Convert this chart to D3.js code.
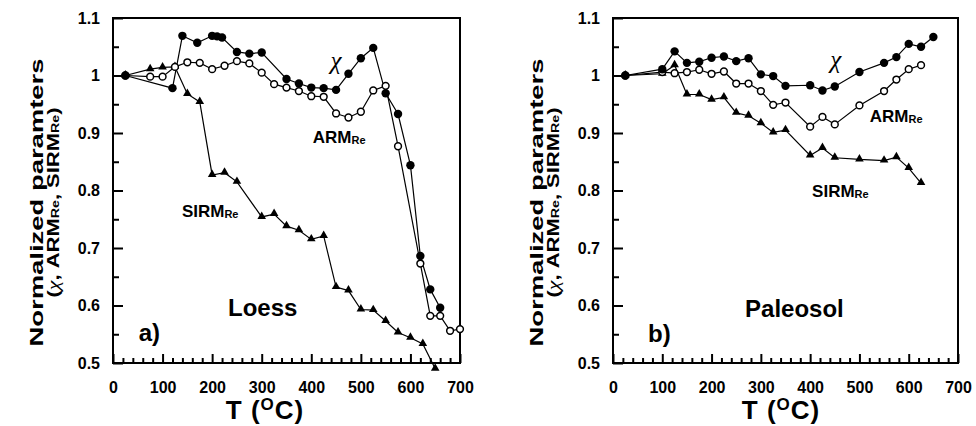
<!DOCTYPE html>
<html>
<head>
<meta charset="utf-8">
<script src="https://cdn.jsdelivr.net/npm/d3@7"></script>
<style>
  body { margin: 0; background: #fff; }
  svg { display: block; font-family: "Liberation Sans", Arial, sans-serif; font-weight: bold; fill: #000; }
</style>
</head>
<body>
<div id="wrapper"></div>
<script>
// ---- data ----
const loessChiT = [25, 120, 140, 170, 200, 210, 220, 250, 275, 300, 350, 375, 400, 425, 450, 475, 500, 525, 550, 575, 600, 620, 640, 660]
const loessChiV = [1.0, 0.978, 1.069, 1.057, 1.069, 1.068, 1.066, 1.041, 1.038, 1.040, 0.994, 0.986, 0.979, 0.978, 0.975, 1.003, 1.030, 1.048, 0.969, 0.933, 0.844, 0.686, 0.628, 0.596]

const loessArmT = [25, 75, 100, 125, 150, 175, 200, 225, 250, 275, 300, 325, 350, 375, 400, 425, 450, 475, 500, 525, 550, 575, 620, 640, 660, 680, 700]
const loessArmV = [1.0, 0.998, 0.998, 1.015, 1.023, 1.022, 1.011, 1.017, 1.025, 1.021, 1.005, 0.985, 0.979, 0.973, 0.964, 0.963, 0.934, 0.927, 0.937, 0.974, 0.982, 0.877, 0.673, 0.582, 0.582, 0.556, 0.559]

const loessSirmT = [25, 75, 100, 125, 150, 175, 200, 225, 250, 300, 325, 350, 375, 400, 425, 450, 475, 500, 525, 550, 575, 600, 625, 650]
const loessSirmV = [1.0, 1.011, 1.014, 1.015, 0.968, 0.954, 0.827, 0.831, 0.815, 0.754, 0.759, 0.738, 0.731, 0.715, 0.721, 0.632, 0.626, 0.593, 0.592, 0.573, 0.553, 0.544, 0.533, 0.490]

const paleoChiT = [25, 100, 125, 150, 175, 200, 225, 250, 275, 300, 325, 350, 400, 425, 450, 500, 550, 575, 600, 625, 650]
const paleoChiV = [1.0, 1.011, 1.042, 1.022, 1.024, 1.031, 1.033, 1.025, 1.030, 1.002, 0.999, 0.982, 0.983, 0.974, 0.981, 1.006, 1.022, 1.032, 1.055, 1.050, 1.067]

const paleoArmT = [25, 100, 125, 150, 175, 200, 225, 250, 275, 300, 325, 350, 400, 425, 450, 500, 550, 575, 600, 625]
const paleoArmV = [1.0, 1.006, 1.004, 1.006, 1.010, 1.003, 1.007, 0.986, 0.986, 0.973, 0.949, 0.953, 0.911, 0.928, 0.915, 0.948, 0.973, 0.993, 1.011, 1.018]

const paleoSirmT = [25, 100, 125, 150, 175, 200, 225, 250, 275, 300, 325, 350, 400, 425, 450, 500, 550, 575, 600, 625]
const paleoSirmV = [1.0, 1.003, 1.018, 0.967, 0.967, 0.958, 0.962, 0.935, 0.930, 0.917, 0.901, 0.905, 0.861, 0.874, 0.857, 0.854, 0.852, 0.858, 0.839, 0.813]

const xTicks = [0, 100, 200, 300, 400, 500, 600, 700]
const yTicks = [0.5, 0.6, 0.7, 0.8, 0.9, 1, 1.1]
const yMinorTicks = [0.55, 0.65, 0.75, 0.85, 0.95, 1.05]

const zip = (ts, vs) => ts.map((t, i) => [t, vs[i]])

// ---- layout ----
const dimensions = { width: 976, height: 426, top: 18, bottom: 363 }

const panels = [
  {
    left: 113, right: 460, titleX: [43, 59], xTitleX: 265,
    chi: zip(loessChiT, loessChiV),
    arm: zip(loessArmT, loessArmV),
    sirm: zip(loessSirmT, loessSirmV),
    notes: { chi: [450, 1.011], arm: [403, 0.883], sirm: [139, 0.754], name: [232, 0.582], tag: [52, 0.538] },
    name: "Loess", tag: "a)",
  },
  {
    left: 613, right: 958, titleX: [543, 559], xTitleX: 781,
    chi: zip(paleoChiT, paleoChiV),
    arm: zip(paleoArmT, paleoArmV),
    sirm: zip(paleoSirmT, paleoSirmV),
    notes: { chi: [452, 1.013], arm: [521, 0.919], sirm: [404, 0.789], name: [268, 0.580], tag: [71, 0.537] },
    name: "Paleosol", tag: "b)",
  },
]

const svg = d3.select("#wrapper")
  .append("svg")
    .attr("width", dimensions.width)
    .attr("height", dimensions.height)

function addSub(sel, main, sub, size) {
  sel.append("tspan").text(main)
  sel.append("tspan").attr("font-size", size).attr("dy", 1).text(sub)
}

function drawPanel(p) {
  const g = svg.append("g")

  const xScale = d3.scaleLinear()
    .domain([0, 700])
    .range([p.left, p.right])

  const yScale = d3.scaleLinear()
    .domain([0.5, 1.1])
    .range([dimensions.bottom, dimensions.top])

  // frame
  g.append("rect")
    .attr("x", p.left)
    .attr("y", dimensions.top)
    .attr("width", p.right - p.left)
    .attr("height", dimensions.bottom - dimensions.top)
    .attr("fill", "none")
    .attr("stroke", "#000")
    .attr("stroke-width", 2)

  // y axis, ticks inward
  g.append("g")
    .attr("transform", `translate(${p.left},0)`)
    .call(d3.axisLeft(yScale).tickValues(yTicks).tickSize(-10).tickPadding(13).tickFormat(d => String(d)))
  g.append("g")
    .attr("transform", `translate(${p.left},0)`)
    .call(d3.axisLeft(yScale).tickValues(yMinorTicks).tickSize(-6).tickFormat(""))

  // x axis, ticks inward
  g.append("g")
    .attr("transform", `translate(0,${dimensions.bottom})`)
    .call(d3.axisBottom(xScale).tickValues(xTicks).tickSize(-9).tickPadding(19))
  g.append("g")
    .attr("transform", `translate(0,${dimensions.bottom})`)
    .call(d3.axisBottom(xScale).tickValues(d3.range(20, 700, 20).filter(d => d % 100 !== 0)).tickSize(-5).tickFormat(""))

  g.selectAll(".domain").remove()
  g.selectAll(".tick line").attr("stroke", "#000").attr("stroke-width", 2)
  g.selectAll(".tick text")
    .attr("font-size", 16)
    .attr("font-family", "Liberation Sans, Arial, sans-serif")
    .attr("font-weight", "bold")
    .attr("fill", "#000")

  // axis titles (stretched along their length like the original)
  const cy = (dimensions.top + dimensions.bottom) / 2 + 12
  const len1 = 288, len2 = 190
  g.append("text")
    .attr("transform", `translate(${p.titleX[0]},${cy + len1 / 2}) rotate(-90)`)
    .attr("font-size", 18)
    .attr("textLength", len1)
    .attr("lengthAdjust", "spacingAndGlyphs")
    .text("Normalized paramters")

  const t2 = g.append("text")
    .attr("transform", `translate(${p.titleX[1]},${cy + len2 / 2}) rotate(-90)`)
    .attr("font-size", 17)
    .attr("textLength", len2)
    .attr("lengthAdjust", "spacingAndGlyphs")
  t2.append("tspan").text("(")
  t2.append("tspan").attr("font-family", "Liberation Serif, serif").attr("font-style", "italic").attr("font-weight", "normal").text("χ")
  t2.append("tspan").text(", ARM")
  t2.append("tspan").attr("font-size", 11).text("Re")
  t2.append("tspan").text(", SIRM")
  t2.append("tspan").attr("font-size", 11).text("Re")
  t2.append("tspan").text(")")

  const xt = g.append("text")
    .attr("x", p.xTitleX)
    .attr("y", 419)
    .attr("text-anchor", "middle")
    .attr("font-size", 26)
    .attr("letter-spacing", 1)
  xt.append("tspan").text("T (")
  xt.append("tspan").attr("font-size", 17).attr("dy", -9).text("O")
  xt.append("tspan").attr("dy", 9).text("C)")

  // series
  const lineGenerator = d3.line()
    .x(d => xScale(d[0]))
    .y(d => yScale(d[1]))

  ;[p.sirm, p.arm, p.chi].forEach(series => {
    g.append("path")
      .attr("d", lineGenerator(series))
      .attr("fill", "none")
      .attr("stroke", "#000")
      .attr("stroke-width", 1.2)
  })

  g.selectAll(".tri")
    .data(p.sirm)
    .join("path")
      .attr("class", "tri")
      .attr("d", d3.symbol(d3.symbolTriangle, 32))
      .attr("transform", d => `translate(${xScale(d[0])},${yScale(d[1]) - 0.5})`)
      .attr("fill", "#000")

  g.selectAll(".open")
    .data(p.arm)
    .join("circle")
      .attr("class", "open")
      .attr("cx", d => xScale(d[0]))
      .attr("cy", d => yScale(d[1]))
      .attr("r", 3.4)
      .attr("fill", "#fff")
      .attr("stroke", "#000")
      .attr("stroke-width", 1.5)

  g.selectAll(".filled")
    .data(p.chi)
    .join("circle")
      .attr("class", "filled")
      .attr("cx", d => xScale(d[0]))
      .attr("cy", d => yScale(d[1]))
      .attr("r", 4.2)
      .attr("fill", "#000")

  // annotations
  const n = p.notes
  g.append("text")
    .attr("x", xScale(n.chi[0]))
    .attr("y", yScale(n.chi[1]))
    .attr("text-anchor", "middle")
    .attr("font-family", "Liberation Serif, serif")
    .attr("font-style", "italic")
    .attr("font-weight", "normal")
    .attr("font-size", 25)
    .text("χ")

  addSub(g.append("text")
    .attr("x", xScale(n.arm[0]))
    .attr("y", yScale(n.arm[1]))
    .attr("font-size", 17), "ARM", "Re", 11)

  addSub(g.append("text")
    .attr("x", xScale(n.sirm[0]))
    .attr("y", yScale(n.sirm[1]))
    .attr("font-size", 17), "SIRM", "Re", 11)

  g.append("text")
    .attr("x", xScale(n.name[0]))
    .attr("y", yScale(n.name[1]))
    .attr("font-size", 24)
    .text(p.name)

  g.append("text")
    .attr("x", xScale(n.tag[0]))
    .attr("y", yScale(n.tag[1]))
    .attr("font-size", 24)
    .text(p.tag)
}

panels.forEach(drawPanel)
</script>
</body>
</html>
